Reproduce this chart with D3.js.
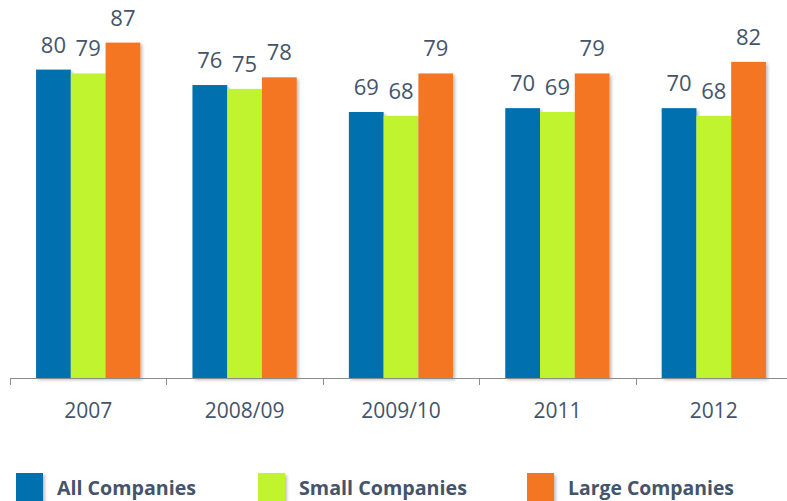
<!DOCTYPE html>
<html>
<head>
<meta charset="utf-8">
<script src="https://cdn.jsdelivr.net/npm/d3@7"></script>
<style>
  body { margin: 0; background: #fff; }
  text { font-family: "Open Sans", sans-serif; fill: #44546a; }
</style>
</head>
<body>
<div id="chart"></div>
<script>
const width = 787;
const height = 501;

// data
const years = ["2007", "2008/09", "2009/10", "2011", "2012"];
const series = ["All Companies", "Small Companies", "Large Companies"];
const allCompanies = [80, 76, 69, 70, 70];
const smallCompanies = [79, 75, 68, 69, 68];
const largeCompanies = [87, 78, 79, 79, 82];
const colors = ["#0071ae", "#bff42f", "#f47623"];

const rows = years.map((y, i) => ({
  year: y,
  values: [allCompanies[i], smallCompanies[i], largeCompanies[i]]
}));

const svg = d3.select("#chart")
  .append("svg")
  .attr("width", width)
  .attr("height", height);

// soft shadow on bars
const defs = svg.append("defs");
const f = defs.append("filter").attr("id", "shadow")
  .attr("x", "-10%").attr("y", "-10%").attr("width", "130%").attr("height", "130%");
f.append("feDropShadow")
  .attr("dx", 2).attr("dy", 2)
  .attr("stdDeviation", 1.5)
  .attr("flood-color", "#000")
  .attr("flood-opacity", 0.25);

const baseY = 378;

const x0 = d3.scaleBand()
  .domain(years)
  .range([10, 792]);

const x1 = d3.scaleBand()
  .domain(series)
  .range([0, x0.bandwidth()])
  .paddingOuter(0.75);

const y = d3.scaleLinear()
  .domain([0, 100])
  .range([baseY, baseY - 385.5]);

// bars
const groups = svg.append("g")
  .selectAll("g")
  .data(rows)
  .enter()
  .append("g")
  .attr("transform", d => `translate(${x0(d.year)},0)`);

groups.selectAll("rect")
  .data(d => d.values.map((v, i) => ({ key: series[i], value: v, i: i })))
  .enter()
  .append("rect")
  .attr("x", d => x1(d.key))
  .attr("y", d => y(d.value))
  .attr("width", x1.bandwidth())
  .attr("height", d => baseY - y(d.value))
  .attr("fill", d => colors[d.i])
  .attr("filter", "url(#shadow)");

// value labels
groups.selectAll(".val")
  .data(d => d.values.map((v, i) => ({ key: series[i], value: v })))
  .enter()
  .append("text")
  .attr("class", "val")
  .attr("x", d => x1(d.key) + x1.bandwidth() / 2)
  .attr("y", d => y(d.value) - 17)
  .attr("text-anchor", "middle")
  .style("font-size", "22px")
  .text(d => d.value);

// x axis: line, boundary ticks, labels
const axis = svg.append("g");
axis.append("line")
  .attr("x1", 10).attr("x2", width)
  .attr("y1", baseY + 0.5).attr("y2", baseY + 0.5)
  .attr("stroke", "#8c8c8c");

const tickXs = years.map(d => x0(d)).concat([x0.range()[1]]);
axis.selectAll(".tick")
  .data(tickXs)
  .enter()
  .append("line")
  .attr("x1", d => Math.round(d) + 0.5)
  .attr("x2", d => Math.round(d) + 0.5)
  .attr("y1", baseY)
  .attr("y2", baseY + 7)
  .attr("stroke", "#8c8c8c");

axis.selectAll(".lbl")
  .data(years)
  .enter()
  .append("text")
  .attr("x", d => x0(d) + x0.bandwidth() / 2)
  .attr("y", 418)
  .attr("text-anchor", "middle")
  .style("font-size", "21px")
  .text(d => d);

// legend
const legendX = [16, 258, 527];
const legendTextLen = [139, 168, 166];
const legend = svg.append("g")
  .selectAll("g")
  .data(series)
  .enter()
  .append("g")
  .attr("transform", (d, i) => `translate(${legendX[i]},473)`);

legend.append("rect")
  .attr("width", 27)
  .attr("height", 28)
  .attr("fill", (d, i) => colors[i])
  .attr("filter", "url(#shadow)");

legend.append("text")
  .attr("x", 41)
  .attr("y", 21.5)
  .attr("textLength", (d, i) => legendTextLen[i])
  .attr("lengthAdjust", "spacingAndGlyphs")
  .style("font-size", "20px")
  .style("font-weight", "bold")
  .text(d => d);
</script>
</body>
</html>
